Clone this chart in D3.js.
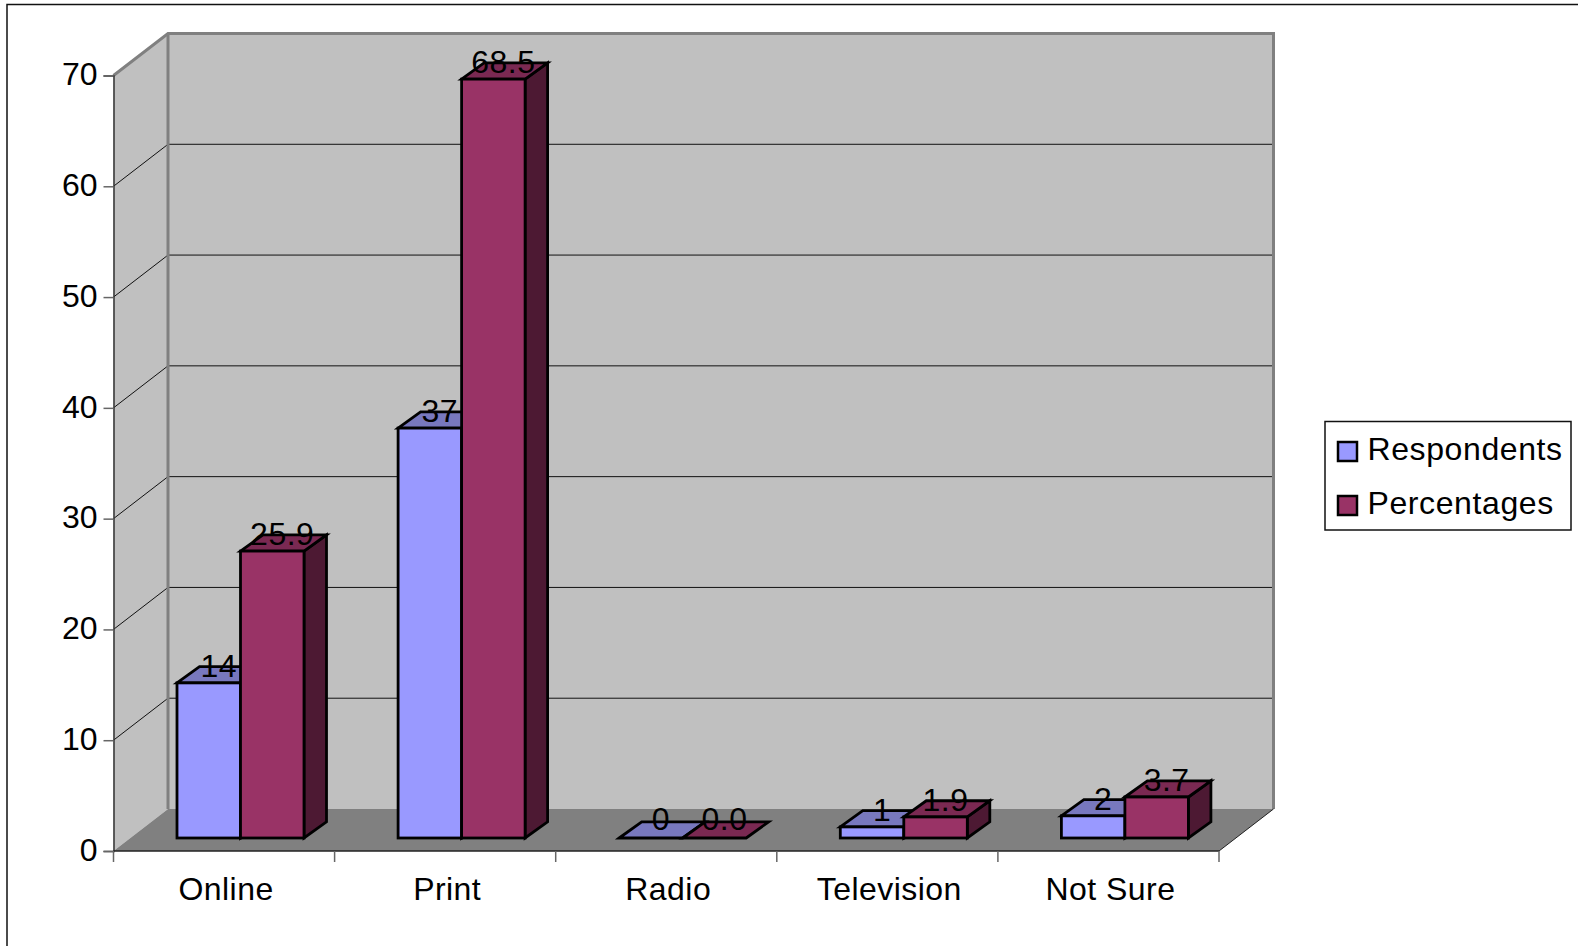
<!DOCTYPE html>
<html>
<head>
<meta charset="utf-8">
<script src="https://cdn.jsdelivr.net/npm/d3@7"></script>
<style>
  html, body { margin: 0; padding: 0; background: #fff; overflow: hidden; }
  text { font-family: "Liberation Sans", Arial, sans-serif; font-size: 32px; fill: #000; }
</style>
</head>
<body>
<svg id="chart" width="1578" height="946"></svg>
<script>
const categories = ["Online", "Print", "Radio", "Television", "Not Sure"];
const respondents = [14, 37, 0, 1, 2];
const percentages = [25.9, 68.5, 0.0, 1.9, 3.7];
const respondentLabels = ["14", "37", "0", "1", "2"];
const percentageLabels = ["25.9", "68.5", "0.0", "1.9", "3.7"];
const yTicks = [0, 10, 20, 30, 40, 50, 60, 70];
const seriesNames = ["Respondents", "Percentages"];
const frontColors = ["#9999ff", "#993366"];
const topColors = ["#7878be", "#7a2952"];
const sideColors = ["#4d4d80", "#4d1933"];

const svg = d3.select("#chart");

// Front plane of the 3D plot box, and the offset that reaches the back wall
const y = d3.scaleLinear().domain([0, 70]).range([851, 75.5]);
const x0 = d3.scaleBand().domain(categories).range([113.5, 1219]);
const depthX = 54.5, depthY = 42;

// Two touching bars sit in the middle of each category band
const x1 = d3.scaleBand().domain(seriesNames).range([46.8, 46.8 + 127]);

const pts = a => a.map(p => p.join(",")).join(" ");
const floorY = y(0);
const backLeft = x0.range()[0] + depthX;
const backRight = x0.range()[1] + depthX;
const frontLeft = x0.range()[0];
const frontRight = x0.range()[1];
const topV = y.domain()[1];

// Page frame
svg.append("rect").attr("x", 7).attr("y", 4.5).attr("width", 1600).attr("height", 1000)
  .attr("fill", "#fff").attr("stroke", "#111").attr("stroke-width", 1.5);

// Walls and floor
svg.append("polygon")
  .attr("points", pts([[backLeft, y(topV) - depthY], [backRight, y(topV) - depthY], [backRight, floorY - depthY], [backLeft, floorY - depthY]]))
  .attr("fill", "#c0c0c0");
svg.append("polygon")
  .attr("points", pts([[frontLeft, y(topV)], [backLeft, y(topV) - depthY], [backLeft, floorY - depthY], [frontLeft, floorY]]))
  .attr("fill", "#c0c0c0");
svg.append("polygon")
  .attr("points", pts([[frontLeft, floorY], [backLeft, floorY - depthY], [backRight, floorY - depthY], [frontRight, floorY]]))
  .attr("fill", "#808080");

// Gridlines wrap around the side wall and the back wall
const grid = yTicks.filter(t => t > 0 && t < topV);
svg.append("g").selectAll("polyline").data(grid).join("polyline")
  .attr("points", t => pts([[frontLeft, y(t)], [backLeft, y(t) - depthY], [backRight, y(t) - depthY]]))
  .attr("fill", "none").attr("stroke", "#111").attr("stroke-width", 1);

// Wall outlines
svg.append("polyline")
  .attr("points", pts([[frontLeft, y(topV)], [backLeft, y(topV) - depthY], [backRight, y(topV) - depthY], [backRight, floorY - depthY]]))
  .attr("fill", "none").attr("stroke", "#808080").attr("stroke-width", 3);
svg.append("line")
  .attr("x1", backLeft).attr("x2", backLeft)
  .attr("y1", y(topV) - depthY).attr("y2", floorY - depthY)
  .attr("stroke", "#808080").attr("stroke-width", 3);
svg.append("line")
  .attr("x1", frontRight).attr("y1", floorY).attr("x2", backRight).attr("y2", floorY - depthY)
  .attr("stroke", "#222").attr("stroke-width", 1);

// Value axis
const yAxis = svg.append("g").attr("transform", `translate(${frontLeft},0)`)
  .call(d3.axisLeft(y).tickValues(yTicks).tickSize(10).tickPadding(6));
yAxis.select(".domain").attr("stroke", "#333").attr("stroke-width", 1.5);
yAxis.selectAll(".tick line").attr("stroke", "#666").attr("stroke-width", 1.5);
yAxis.selectAll(".tick text").attr("dy", "0.29em").style("font-size", "32px")
  .style("font-family", '"Liberation Sans", Arial, sans-serif').attr("fill", "#000");

// Category axis with ticks at the band edges
const edges = categories.map(c => x0(c)).concat([frontRight]);
svg.append("line").attr("x1", frontLeft).attr("x2", frontRight).attr("y1", floorY).attr("y2", floorY)
  .attr("stroke", "#222").attr("stroke-width", 1.5);
svg.append("g").selectAll("line").data(edges).join("line")
  .attr("x1", d => d).attr("x2", d => d).attr("y1", floorY).attr("y2", floorY + 11)
  .attr("stroke", "#666").attr("stroke-width", 1.5);
svg.append("g").selectAll("text").data(categories).join("text")
  .attr("x", c => x0(c) + x0.bandwidth() / 2 + 2).attr("y", 899.5)
  .attr("text-anchor", "middle").style("letter-spacing", "0.45px").text(c => c);

// Bars: each one is a front face, a top face and a right side face
const nearOffset = [16.7, 13];
const barDepth = [22.5, 16.2];
const rows = categories.flatMap((c, i) => [
  { c, s: 0, v: respondents[i], label: respondentLabels[i] },
  { c, s: 1, v: percentages[i], label: percentageLabels[i] }
]);
const bars = svg.append("g").selectAll("g").data(rows).join("g");
const corners = d => {
  const l = x0(d.c) + x1(seriesNames[d.s]) + nearOffset[0];
  const r = l + x1.bandwidth();
  const b = y(0) - nearOffset[1];
  const t = y(d.v) - nearOffset[1];
  return { l, r, b, t, dx: barDepth[0], dy: barDepth[1] };
};
const faceStyle = sel => sel.attr("stroke", "#000").attr("stroke-width", 2.8).attr("stroke-linejoin", "miter");
bars.filter(d => d.v > 0).append("polygon")
  .attr("points", d => { const k = corners(d); return pts([[k.r, k.t], [k.r + k.dx, k.t - k.dy], [k.r + k.dx, k.b - k.dy], [k.r, k.b]]); })
  .attr("fill", d => sideColors[d.s]).call(faceStyle);
bars.append("polygon")
  .attr("points", d => { const k = corners(d); return pts([[k.l, k.t], [k.l + k.dx, k.t - k.dy], [k.r + k.dx, k.t - k.dy], [k.r, k.t]]); })
  .attr("fill", d => topColors[d.s]).call(faceStyle);
bars.filter(d => d.v > 0).append("rect")
  .attr("x", d => corners(d).l).attr("y", d => corners(d).t)
  .attr("width", x1.bandwidth()).attr("height", d => corners(d).b - corners(d).t)
  .attr("fill", d => frontColors[d.s]).call(faceStyle);

// Value labels float above the top faces; flat bars get a little more clearance
svg.append("g").selectAll("text").data(rows).join("text")
  .attr("x", d => { const k = corners(d); return (k.l + k.r) / 2 + 10; })
  .attr("y", d => corners(d).t - (d.v === 0 ? 8 : 6))
  .attr("text-anchor", "middle").style("letter-spacing", "0.5px").text(d => d.label);

// Legend
const legend = svg.append("g");
legend.append("rect").attr("x", 1325).attr("y", 421.5).attr("width", 246).attr("height", 108.5)
  .attr("fill", "#fff").attr("stroke", "#111").attr("stroke-width", 1.5);
const items = legend.selectAll("g").data(seriesNames).join("g")
  .attr("transform", (d, i) => `translate(0,${i * 54})`);
items.append("rect").attr("x", 1338).attr("y", 442).attr("width", 19).attr("height", 19)
  .attr("fill", (d, i) => frontColors[i]).attr("stroke", "#000").attr("stroke-width", 2.5);
items.append("text").attr("x", 1367.5).attr("y", 460).style("letter-spacing", "0.6px").text(d => d);
</script>
</body>
</html>
